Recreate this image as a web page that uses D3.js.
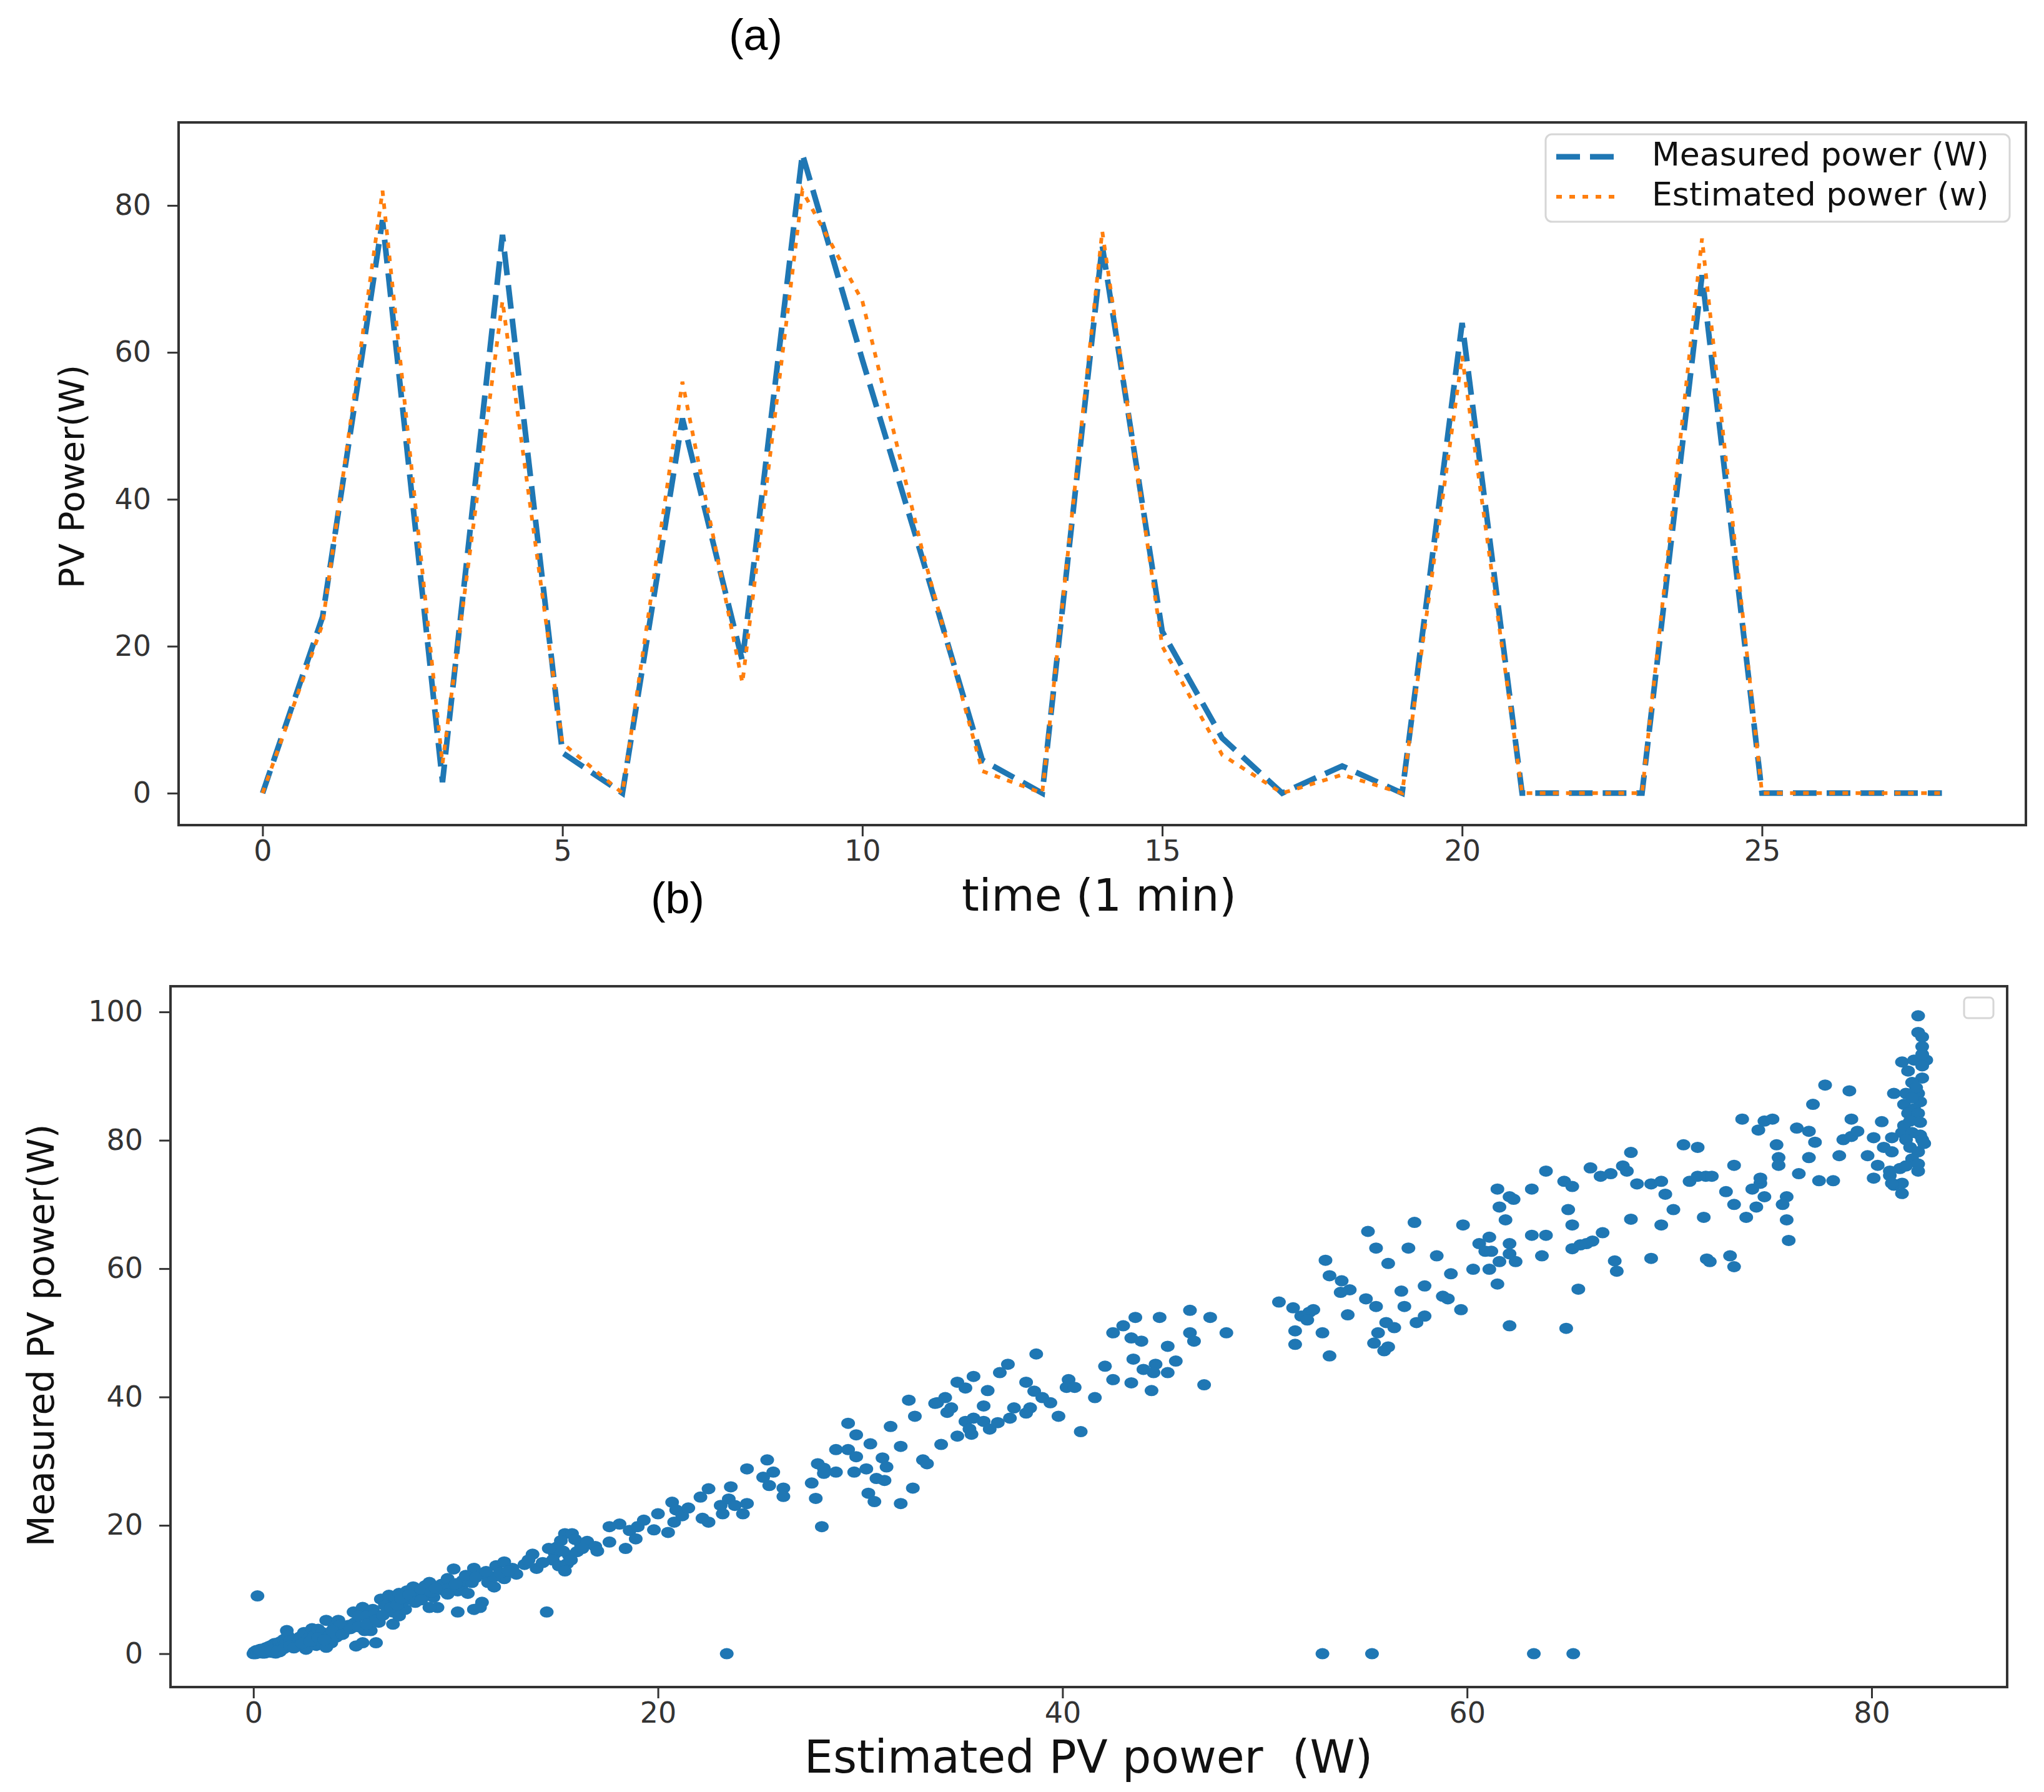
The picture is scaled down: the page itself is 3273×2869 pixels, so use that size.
<!DOCTYPE html>
<html lang="en">
<head>
<meta charset="UTF-8">
<title>PV power: measured vs estimated</title>
<script src="https://d3js.org/d3.v7.min.js"></script>
<style>
  body { margin: 0; background: #fff; }
  .tick text { font-family: "DejaVu Sans", sans-serif; font-size: 46px; fill: #333; }
  .tick line { stroke: #333; stroke-width: 3; }
  .axis-label { font-family: "DejaVu Sans", sans-serif; fill: #111; }
  .panel-tag { font-family: "Liberation Sans", Arial, sans-serif; font-size: 70px; fill: #000; }
</style>
</head>
<body>
<svg id="fig" width="3273" height="2869"></svg>
<script>
// ---- panel (a) data: one value per minute ----
const timeMin = d3.range(0, 29);
const measuredPower  = [0, 24, 78, 1.5, 76, 5.5, 0, 51, 18, 87, 59, 32, 4.5, 0, 74.5, 22, 7.5, 0, 3.7, 0, 64, 0, 0, 0, 70.5, 0, 0, 0, 0];
const estimatedPower = [0, 23, 82, 4, 67, 6.8, 0, 56, 15, 82, 67, 33, 3, 0, 76.5, 20, 5.2, 0, 2.5, 0, 59.5, 0, 0, 0, 75.5, 0, 0, 0, 0];
const xTicksA = [0, 5, 10, 15, 20, 25];
const yTicksA = [0, 20, 40, 60, 80];

// ---- panel (b) data: [estimated, measured] pairs ----
const scatterPairs = [
  [0,0],[0.05,0.3],[0.1,0],[0.15,0.5],[0.2,0.1],[0.2,9.0],[0.3,0.2],[0.35,0.7],[0.4,0.3],[0.45,0.1],
  [0.5,0.5],[0.55,0.1],[0.6,0.9],[0.65,0.2],[0.7,0.6],[0.75,1.1],[0.8,0.4],[0.85,0.8],[0.9,1.3],[0.95,0.2],
  [1.0,0.6],[1.05,1.6],[1.1,0.1],[1.15,1.3],[1.2,0.9],[1.3,1.8],[1.3,0.3],[1.4,1.1],[1.5,2.2],[1.6,1.5],
  [1.65,3.6],[1.7,2.8],[1.8,2.0],[2.0,2.2],[2.1,1.3],[2.2,1.8],[2.3,2.6],[2.5,3.3],[2.6,0.7],[2.7,2.4],
  [2.9,3.9],[3.0,2.8],[3.1,1.3],[3.2,3.8],[3.3,2.0],[3.4,3.3],[3.6,5.2],[3.6,1.0],[3.8,3.0],[3.85,1.7],
  [4.0,4.2],[4.1,2.6],[4.2,5.2],[4.3,4.5],[4.5,3.6],[4.7,4.4],[5.0,4.8],[5.07,1.2],[5.4,1.7],[6.06,1.7],
  [5.5,3.6],[5.8,3.6],[4.95,6.5],[5.4,7.2],[5.2,5.9],[5.9,6.9],[6.2,4.9],[5.6,5.9],[6.0,6.2],[6.3,8.5],
  [6.6,8.4],[6.7,9.1],[7.0,8.8],[7.2,9.4],[7.6,9.8],[7.9,10.4],[6.9,4.6],[7.2,5.9],[7.5,6.9],[6.9,6.5],
  [6.5,7.5],[7.8,8.5],[7.4,8.1],[8.1,9.6],[8.5,10.6],[8.7,11.1],[8.9,8.8],[9.1,7.2],[8.7,7.2],[8.4,9.1],
  [8.3,10.1],[9.3,10.8],[9.4,9.9],[10.1,6.5],[10.9,6.9],[11.3,8.0],[11.2,7.2],[9.9,13.2],[9.6,11.7],[9.8,10.4],
  [10.1,9.8],[10.3,10.6],[10.6,9.4],[10.35,11.4],[10.9,13.3],[10.8,11.1],[11.3,12.4],[11.6,11.1],[11.9,10.4],[12.0,13.7],
  [12.4,14.3],[12.8,13.3],[13.0,12.4],[12.4,11.7],[11.9,12.0],[13.8,15.5],[14.0,13.3],[14.5,6.5],[14.9,15.6],[14.8,14.6],
  [15.1,13.7],[15.5,14.0],[15.4,18.7],[15.75,18.7],[15.2,17.6],[15.6,15.3],[15.0,16.6],[16.2,16.9],[15.4,12.9],[15.7,14.6],
  [0.3,0.6],[0.6,0.3],[0.9,0.5],[1.2,0.4],[1.5,0.8],[1.8,1.2],[2.0,0.9],[2.4,1.6],[2.8,1.9],[3.2,2.5],
  [3.5,2.2],[3.9,3.6],[4.4,3.0],[4.8,3.9],[5.2,4.2],[5.6,4.6],[6.1,5.3],[6.4,6.0],[6.8,7.2],[7.1,7.6],
  [7.3,8.6],[7.7,9.2],[8.0,8.0],[8.3,8.4],[8.8,9.6],[9.0,10.2],[9.6,9.3],[10.0,10.9],[10.5,12.2],[11.0,11.9],
  [11.5,12.8],[12.2,12.6],[12.6,12.9],[13.4,13.9],[13.6,14.6],[14.3,14.2],[14.6,16.4],[15.3,16.0],[15.9,17.8],[16.5,17.5],
  [16.0,15.9],[16.26,16.4],[16.9,16.7],[17.0,16.0],[17.6,17.4],[17.6,19.8],[18.1,20.2],[18.6,19.2],[18.9,17.9],[18.4,16.4],
  [19.0,19.8],[19.3,20.8],[20.0,21.8],[19.8,19.3],[20.5,18.9],[20.7,23.6],[20.9,22.4],[20.8,20.5],[21.2,21.5],[21.5,22.7],
  [22.5,25.7],[22.1,24.4],[22.2,21.1],[22.5,20.5],[23.1,23.1],[23.5,24.1],[23.8,23.1],[23.2,21.8],[23.6,26.0],[24.4,23.4],
  [24.2,21.8],[24.4,28.8],[25.4,30.2],[25.7,28.3],[25.2,27.5],[25.5,26.2],[26.2,25.8],[26.2,24.5],[27.6,26.6],[27.8,24.2],
  [28.1,19.8],[27.9,29.6],[28.2,28.9],[28.8,28.3],[28.2,28.1],[28.8,31.8],[29.4,31.8],[29.4,35.9],[29.8,34.1],[29.8,30.7],
  [30.5,32.7],[29.7,28.3],[30.3,28.8],[31.1,30.5],[31.3,29.1],[30.8,27.3],[31.2,27.0],[30.4,25.0],[30.7,23.7],[31.5,35.4],
  [32.4,39.5],[32.7,37.0],[32.0,32.3],[33.1,30.2],[33.3,29.6],[32.6,25.8],[32.0,23.4],[33.7,39.0],[34.0,32.6],[34.8,33.9],
  [35.5,34.2],[35.2,36.2],[35.6,36.7],[36.1,36.2],[35.4,35.0],[36.4,35.0],[36.8,36.0],[37.4,36.7],[37.6,38.3],[38.4,38.3],
  [38.2,37.5],[39.8,37.0],[40.9,34.6],[33.8,39.1],[34.2,39.9],[34.3,37.6],[34.5,38.3],[34.8,42.3],[35.2,41.4],
  [35.6,43.2],[36.1,38.6],[36.3,41.0],[36.9,43.8],[37.3,45.1],[38.2,42.3],[38.6,40.9],[39.0,39.9],[39.4,39.1],[38.7,46.7],
  [40.3,42.7],[40.2,41.5],[40.6,41.5],[41.6,39.9],[42.1,44.8],[42.5,42.7],[42.5,50.0],[43.0,51.1],[43.6,52.4],[44.8,52.4],
  [43.4,49.2],[43.9,48.7],[43.5,45.9],[43.4,42.2],[44.4,41.0],[44.0,44.3],[44.6,45.1],[44.5,43.8],[45.2,43.8],[45.6,45.6],
  [45.2,47.9],[46.3,53.5],[47.3,52.4],[46.3,50.0],[46.5,48.7],[48.1,50.0],[47.0,41.9],[50.7,54.8],[51.4,53.9],[51.8,52.6],
  [52.2,53.2],[51.5,50.3],[51.5,48.2],[52.4,53.6],[52.1,52.0],[52.85,50.0],[53.2,46.4],[53.0,61.3],[53.2,58.9],[53.8,58.1],
  [54.2,56.7],[53.75,56.3],[54.1,52.8],[55.0,55.3],[55.5,54.1],[55.1,65.8],[55.5,63.2],[56.1,60.8],[56.0,51.6],[56.4,50.8],
  [55.6,50.0],[55.4,48.4],[56.1,47.8],[55.9,47.2],[57.4,67.2],[57.1,63.2],[56.75,56.5],[56.9,54.1],[57.9,57.3],[57.5,51.6],
  [57.9,52.6],[58.5,62.0],[58.8,55.7],[59.05,55.3],[59.2,59.2],[59.7,53.6],[59.8,66.8],[60.3,59.9],[60.6,63.9],[61.1,64.9],
  [60.9,62.7],[61.2,62.7],[61.1,59.9],[61.5,57.6],[61.6,61.1],[61.5,72.4],[61.6,69.6],[61.9,67.6],[62.1,71.2],[62.3,70.8],
  [62.1,63.9],[62.1,62.3],[62.4,61.1],[62.1,51.1],[63.2,72.4],[63.2,65.2],[63.9,65.2],[63.7,62.0],[63.9,75.2],[64.9,50.7],
  [64.8,73.6],[65.2,72.8],[65.0,69.2],[65.2,66.8],[65.2,63.1],[65.6,63.7],[65.9,63.9],[66.2,64.3],[66.7,65.6],[65.5,56.8],
  [66.1,75.7],[66.6,74.4],[67.1,74.8],[67.7,76.0],[67.9,75.2],[68.1,78.1],[67.3,61.2],[67.4,59.6],[68.1,67.7],[68.4,73.2],
  [69.1,73.2],[69.6,73.6],[69.8,71.6],[70.2,69.2],[69.6,66.8],[69.1,61.6],[70.7,79.3],[71.4,78.9],[71.0,73.6],[71.4,74.4],
  [71.8,74.4],[72.1,74.4],[71.7,68.0],[71.85,61.5],[72.0,61.1],[73.2,76.1],[72.8,72.0],[73.2,70.0],[73.8,68.0],[74.3,69.6],
  [74.7,71.2],[74.1,72.4],[74.5,73.3],[74.5,74.1],[73.6,83.3],[74.4,81.6],[74.7,83.0],[75.1,83.3],[75.3,79.3],[75.4,77.3],
  [75.4,76.1],[75.8,71.2],[75.6,70.0],[75.8,67.6],[75.9,64.4],[73.0,62.0],[73.2,60.3],[76.3,81.9],[76.9,81.4],[77.2,79.7],
  [76.9,77.3],[76.4,74.8],[77.1,85.6],[77.7,88.6],[78.9,87.7],[77.4,73.7],[78.1,73.7],[78.4,77.6],[78.6,80.1],[79.0,80.6],
  [79.3,81.4],[79.0,83.3],[79.8,77.6],[80.1,80.4],[80.3,76.1],[80.1,74.1],[80.5,82.9],[80.6,78.9],[81.0,78.2],[80.9,74.5],
  [81.1,73.0],[81.5,71.7],[81.5,73.3],[82.3,99.4],[82.3,96.8],[82.5,96.1],[82.5,94.6],[81.5,92.2],[82.1,92.5],[82.7,92.5],
  [82.5,91.6],[82.5,89.7],[82.0,89.0],[81.1,87.3],[81.7,87.3],[82.3,87.3],[82.4,86.0],[81.6,85.6],[82.1,84.9],[81.8,84.2],
  [82.3,84.2],[81.6,82.3],[81.5,81.2],[82.0,81.2],[82.4,80.8],[82.5,80.1],[81.0,80.4],[81.7,80.1],[81.9,78.9],[82.3,78.2],
  [82.0,77.1],[82.3,76.3],[82.3,75.2],[81.4,75.6],[81.7,76.0],[80.9,75.2],[81.0,73.3],[82.6,79.5],[81.9,83.0],[82.2,88.2],
  [82.5,93.4],[81.8,90.8],[82.0,86.6],[82.4,82.8],
  [23.4,0],[52.85,0],[55.3,0],[63.3,0],[65.25,0]
];
const xTicksB = [0, 20, 40, 60, 80];
const yTicksB = [0, 20, 40, 60, 80, 100];

const blue = "#1f77b4", orange = "#ff7f0e";
const svg = d3.select("#fig");

// draws frame + axes for a panel, returns the scales
function panel(box, xDomain, yDomain, xTicks, yTicks) {
  const x = d3.scaleLinear().domain(xDomain).range([box.left, box.right]);
  const y = d3.scaleLinear().domain(yDomain).range([box.bottom, box.top]);

  svg.append("g")
    .attr("transform", `translate(0,${box.bottom})`)
    .call(d3.axisBottom(x).tickValues(xTicks).tickSize(18).tickPadding(6))
    .call(g => g.select(".domain").remove());

  svg.append("g")
    .attr("transform", `translate(${box.left},0)`)
    .call(d3.axisLeft(y).tickValues(yTicks).tickSize(18).tickPadding(26))
    .call(g => g.select(".domain").remove());

  svg.append("rect")
    .attr("x", box.left).attr("y", box.top)
    .attr("width", box.right - box.left).attr("height", box.bottom - box.top)
    .attr("fill", "none").attr("stroke", "#333").attr("stroke-width", 4);
  return { x, y };
}

// ---------- (a) line chart ----------
const boxA = { left: 286, right: 3244, top: 196, bottom: 1321 };
const a = panel(boxA, [-1.4, 29.4], [-4.35, 91.3], xTicksA, yTicksA);

const lineM = d3.line().x((d, i) => a.x(timeMin[i])).y(d => a.y(d));
svg.append("path").datum(measuredPower)
  .attr("d", lineM).attr("fill", "none")
  .attr("stroke", blue).attr("stroke-width", 9).attr("stroke-dasharray", "38,16");
svg.append("path").datum(estimatedPower)
  .attr("d", lineM).attr("fill", "none")
  .attr("stroke", orange).attr("stroke-width", 6).attr("stroke-dasharray", "9,12");

// legend
const leg = svg.append("g");
leg.append("rect").attr("x", 2475).attr("y", 215).attr("width", 743).attr("height", 140)
  .attr("rx", 10).attr("fill", "#fff").attr("stroke", "#d6d6d6").attr("stroke-width", 3);
const legItems = [
  { label: "Measured power (W)", color: blue, w: 9, dash: "38,16", y: 251 },
  { label: "Estimated power (w)", color: orange, w: 6, dash: "9,12", y: 315 }
];
legItems.forEach(it => {
  leg.append("line").attr("x1", 2492).attr("x2", 2592).attr("y1", it.y).attr("y2", it.y)
    .attr("stroke", it.color).attr("stroke-width", it.w).attr("stroke-dasharray", it.dash);
  leg.append("text").attr("class", "axis-label").attr("x", 2645).attr("y", it.y + 14)
    .attr("font-size", 52).text(it.label);
});

svg.append("text").attr("class", "axis-label").attr("font-size", 71)
  .attr("x", 1760).attr("y", 1458).attr("text-anchor", "middle").text("time (1 min)");
svg.append("text").attr("class", "axis-label").attr("font-size", 56)
  .attr("transform", "translate(134,763) rotate(-90)").attr("text-anchor", "middle").text("PV Power(W)");
svg.append("text").attr("class", "panel-tag").attr("x", 1210).attr("y", 80)
  .attr("text-anchor", "middle").text("(a)");

// ---------- (b) scatter ----------
const boxB = { left: 273, right: 3214, top: 1579, bottom: 2701 };
const b = panel(boxB, [-4.1, 86.7], [-5.2, 104], xTicksB, yTicksB);

svg.append("g").selectAll("ellipse").data(scatterPairs).join("ellipse")
  .attr("cx", d => b.x(d[0])).attr("cy", d => b.y(d[1]))
  .attr("rx", 11).attr("ry", 9).attr("fill", blue);

// empty legend box, as in the original
svg.append("rect").attr("x", 3145).attr("y", 1597).attr("width", 47).attr("height", 33)
  .attr("rx", 6).attr("fill", "#fff").attr("stroke", "#d6d6d6").attr("stroke-width", 3);

svg.append("text").attr("class", "axis-label").attr("font-size", 73)
  .attr("x", 1743).attr("y", 2838).attr("text-anchor", "middle").text("Estimated PV power  (W)")
  .style("white-space", "pre");
svg.append("text").attr("class", "axis-label").attr("font-size", 58)
  .attr("transform", "translate(86,2138) rotate(-90)").attr("text-anchor", "middle").text("Measured PV power(W)");
svg.append("text").attr("class", "panel-tag").attr("x", 1085).attr("y", 1462)
  .attr("text-anchor", "middle").text("(b)");
</script>
</body>
</html>
